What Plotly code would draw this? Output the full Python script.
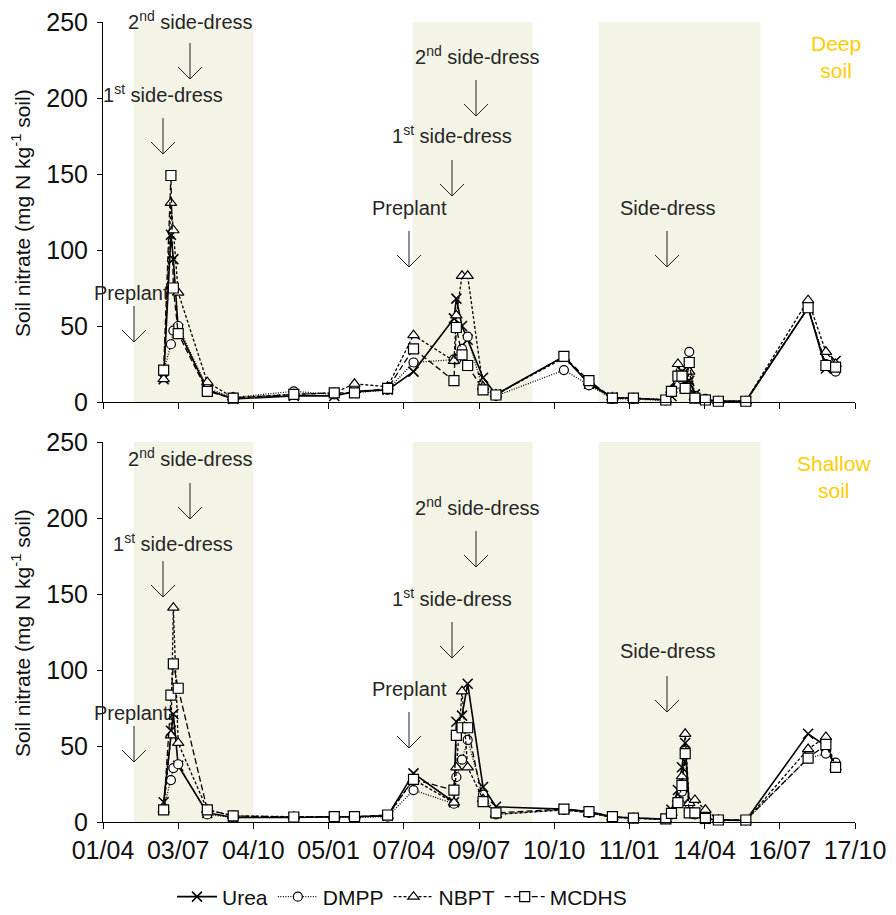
import plotly.graph_objects as go

# ---------------- data ----------------
DATES = ["2011-06-15", "2011-06-24", "2011-06-27", "2011-07-03", "2011-08-08", "2011-09-09",
         "2011-11-23", "2012-01-12", "2012-02-06", "2012-03-18",
         "2012-04-19", "2012-06-08", "2012-06-11", "2012-06-18", "2012-06-25", "2012-07-14", "2012-07-30",
         "2012-10-22", "2012-11-22",
         "2012-12-21", "2013-01-16", "2013-02-25", "2013-03-04", "2013-03-12", "2013-03-17",
         "2013-03-21", "2013-03-26", "2013-04-02", "2013-04-15", "2013-05-01", "2013-06-04",
         "2013-08-20", "2013-09-11", "2013-09-23"]

DEEP_UREA = [15, 110, 94, 48, 8, 2, 4, 4, 7, 8, 20, 55, 68, 50, 41, 16, 5, 30, 12,
             3, 2.5, 1.3, 4, 15, 20, 12, 14, 5, 1.5, 0.5, 0.5, 62, 22, 27]
DEEP_DMPP = [20, 38, 47, 50, 9, 3, 7, 5, 6, 8, 26, 28, 28, 35, 43, 8, 4, 21, 11,
             2, 2, 1, 6, 12, 15, 10, 33, 4, 2, 0.5, 0.5, 62, 25, 20]
DEEP_NBPT = [15, 131, 113, 72, 13, 3, 5, 6, 12, 10, 44, 27, 57, 83, 83, 10, 5, 29, 13,
             3, 2.5, 1.5, 8, 25, 18, 9, 20, 3, 1.5, 0.5, 0.5, 67, 33, 25]
DEEP_MCDHS = [21, 149, 75, 45, 7, 2.5, 5, 6, 6, 9, 35, 14, 49, 31, 24, 8, 4.6, 30, 14,
              2.6, 2.6, 1.3, 7, 17, 17, 9, 26, 2.5, 1.3, 0.5, 0.5, 62, 24, 23]

SHALLOW_UREA = [13, 60, 71, 37, 6, 3, 3, 3.5, 3.5, 4, 32, 13, 66, 70, 91, 23, 10, 8.5, 6.8,
                3.5, 2.6, 2, 8, 21, 36, 52, 10, 6, 2, 1.3, 1, 58, 50, 36]
SHALLOW_DMPP = [8, 27.6, 35.5, 38, 5, 3, 3, 3, 3, 3.5, 21, 12, 29.6, 41, 54, 18, 5, 8, 6,
                3, 2.5, 2, 5, 14, 20, 47, 12, 5, 2, 1.3, 1, 42, 45, 39]
SHALLOW_NBPT = [8, 57, 141, 52, 8, 4, 3.5, 3.5, 3.5, 4, 28, 12.7, 36, 86, 36, 15, 5, 8, 6,
                3, 2.5, 1.5, 6, 15, 30, 58, 12.5, 14.5, 8, 1.5, 1, 48, 56, 36]
SHALLOW_MCDHS = [8, 83.5, 104, 88, 8, 4, 3.3, 3.5, 3.5, 4.6, 28, 21, 57, 62, 62, 13.4, 6, 8.5, 6.8,
                 3.5, 2.6, 2, 5.7, 12.7, 24, 45, 6, 6, 2.4, 1.3, 1.3, 42, 51, 36]

SERIES = ["Urea", "DMPP", "NBPT", "MCDHS"]

TICK_DATES = ["2011-04-01", "2011-07-03", "2011-10-04", "2012-01-05", "2012-04-07", "2012-07-09",
              "2012-10-10", "2013-01-11", "2013-04-14", "2013-07-16", "2013-10-17"]
TICK_LABELS = ["01/04", "03/07", "04/10", "05/01", "07/04", "09/07", "10/10", "11/01",
               "14/04", "16/07", "17/10"]

SEASONS = [("2011-05-09", "2011-10-04"), ("2012-04-18", "2012-09-13"), ("2012-12-04", "2013-06-22")]

# ---------------- styling ----------------
STYLE = {
    "Urea": dict(dash="solid", symbol="x-thin", width=1.6),
    "DMPP": dict(dash="1px,1.5px", symbol="circle", width=1.3),
    "NBPT": dict(dash="3px,2px", symbol="triangle-up", width=1.3),
    "MCDHS": dict(dash="6px,3px", symbol="square", width=1.3),
}
SIZES = {"Urea": 10, "DMPP": 9, "NBPT": 10, "MCDHS": 10}

FONT = "Liberation Sans, Arial, sans-serif"
OFF = 8  # page body margin
W, H = 896 - OFF, 915 - OFF
L, R, T, B = 103 - OFF, 41, 22 - OFF, 93
PW, PH = W - L - R, H - T - B


def px(xp):
    return (xp - OFF - L) / PW


def py(yp):
    return (H - B - (yp - OFF)) / PH


fig = go.Figure()

panels = [("x2", "y2", [DEEP_UREA, DEEP_DMPP, DEEP_NBPT, DEEP_MCDHS], True),
          ("x", "y", [SHALLOW_UREA, SHALLOW_DMPP, SHALLOW_NBPT, SHALLOW_MCDHS], False)]

for xa, ya, vals, first in panels:
    for name, v in zip(SERIES, vals):
        st = STYLE[name]
        if name == "Urea":
            mk = dict(symbol=st["symbol"], size=SIZES[name], color="black",
                      line=dict(color="black", width=1.5))
        else:
            mk = dict(symbol=st["symbol"], size=SIZES[name], color="white",
                      line=dict(color="black", width=1.2))
        fig.add_trace(go.Scatter(
            x=DATES, y=v, name=name, mode="lines+markers", xaxis=xa, yaxis=ya,
            line=dict(color="black", width=st["width"], dash=st["dash"]),
            marker=mk, showlegend=first, cliponaxis=False))

axis_common = dict(showline=True, linecolor="black", linewidth=1, ticks="outside",
                   tickcolor="black", showgrid=False, zeroline=False, automargin=False,
                   ticklabeloverflow="allow",
                   tickfont=dict(family=FONT, size=25, color="#111"))

fig.update_layout(
    width=W, height=H, margin=dict(l=L, r=R, t=T, b=B, autoexpand=False),
    paper_bgcolor="white", plot_bgcolor="white",
    xaxis=dict(type="date", range=[TICK_DATES[0], TICK_DATES[-1]], tickvals=TICK_DATES,
               ticktext=TICK_LABELS, ticklen=6, domain=[0, 1], anchor="y", **axis_common),
    xaxis2=dict(type="date", range=[TICK_DATES[0], TICK_DATES[-1]], tickvals=TICK_DATES,
                ticktext=TICK_LABELS, showticklabels=False, ticklen=6, domain=[0, 1],
                anchor="y2", **axis_common),
    yaxis=dict(range=[0, 250], dtick=50, ticklen=5, domain=[0, 0.475], anchor="x",
               ticklabelstandoff=4, **axis_common),
    yaxis2=dict(range=[0, 250], dtick=50, ticklen=5, domain=[0.525, 1], anchor="x2",
                ticklabelstandoff=4, **axis_common),
    legend=dict(orientation="h", xref="container", yref="container",
                x=(172 - OFF) / W, xanchor="left", y=1 - (897 - OFF) / H, yanchor="middle",
                font=dict(family=FONT, size=21, color="#111"), itemwidth=40,
                bgcolor="rgba(0,0,0,0)"),
    font=dict(family=FONT),
)

# seasonal shading
for xr, yr in [("x", "y"), ("x2", "y2")]:
    for s0, s1 in SEASONS:
        fig.add_shape(type="rect", xref=xr, yref=yr + " domain", x0=s0, x1=s1, y0=0, y1=1,
                      fillcolor="#F4F4E6", line=dict(width=0), layer="below")

# y-axis titles
for yc in (213, 633):
    fig.add_annotation(text="Soil nitrate (mg N kg<sup>-1</sup> soil)", xref="paper", yref="paper",
                       x=px(21), y=py(yc), textangle=-90, showarrow=False,
                       font=dict(family=FONT, size=21, color="#111"),
                       xanchor="center", yanchor="middle")

# event labels: (text, x px, y px)
LABELS = [
    ("2<sup>nd</sup> side-dress", 190, 20), ("1<sup>st</sup> side-dress", 163, 94), ("Preplant", 131, 293),
    ("2<sup>nd</sup> side-dress", 477, 55), ("1<sup>st</sup> side-dress", 452, 135), ("Preplant", 409, 208),
    ("Side-dress", 668, 208),
    ("2<sup>nd</sup> side-dress", 190, 458), ("1<sup>st</sup> side-dress", 173, 542), ("Preplant", 131, 713),
    ("2<sup>nd</sup> side-dress", 477, 507), ("1<sup>st</sup> side-dress", 452, 597), ("Preplant", 409, 689),
    ("Side-dress", 668, 651),
]
for txt, xp, yp in LABELS:
    fig.add_annotation(text=txt, xref="paper", yref="paper", x=px(xp), y=py(yp), showarrow=False,
                       font=dict(family=FONT, size=20, color="#262626"),
                       xanchor="center", yanchor="middle")

# arrows: (x px, tip y px)
ARROWS = [(190, 79), (163, 154), (134, 342), (476, 116), (452, 196), (409, 267), (667, 267),
          (190, 519), (163, 597), (134, 762), (476, 567), (452, 658), (409, 748), (667, 712)]
for xp, yp in ARROWS:
    fig.add_shape(type="path", xref="paper", yref="paper", xsizemode="pixel", ysizemode="pixel",
                  xanchor=px(xp), yanchor=py(yp),
                  path="M0,0 L0,36 M-12,12 L0,0 L12,12",
                  line=dict(color="#222", width=1))

# soil labels
for txt, xp, yp in [("Deep<br>soil", 836, 57), ("Shallow<br>soil", 834, 477)]:
    fig.add_annotation(text=txt, xref="paper", yref="paper", x=px(xp), y=py(yp), showarrow=False,
                       font=dict(family=FONT, size=21, color="#FFCC00"),
                       xanchor="center", yanchor="middle", align="center")

fig.write_html("out.html")
